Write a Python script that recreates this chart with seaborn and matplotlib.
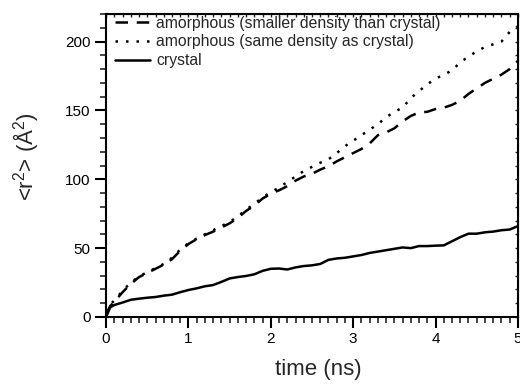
import numpy as np
import pandas as pd
import matplotlib
matplotlib.use('Agg')
import matplotlib.pyplot as plt
import seaborn as sns
from matplotlib.ticker import MultipleLocator

# values
time_ns = [0, 0.05, 0.1, 0.2, 0.3, 0.4, 0.5, 0.6, 0.7, 0.8, 0.9,
           1.0, 1.1, 1.2, 1.3, 1.4, 1.5, 1.6, 1.7, 1.8, 1.9,
           2.0, 2.1, 2.2, 2.3, 2.4, 2.5, 2.6, 2.7, 2.8, 2.9,
           3.0, 3.1, 3.2, 3.3, 3.4, 3.5, 3.6, 3.7, 3.8, 3.9,
           4.0, 4.1, 4.2, 4.3, 4.4, 4.5, 4.6, 4.7, 4.8, 4.9, 5.0]

amorph_low = [2, 8, 11, 18, 24, 29, 32, 35, 38, 42, 48,
              53, 56.5, 59.5, 62, 65, 68, 72, 77, 81, 86,
              89.5, 92, 95, 99, 102, 104, 107, 109.5, 113, 116,
              119, 122, 126, 132, 134, 137, 142, 146, 148.5, 149,
              151, 152, 154, 157, 162, 166, 170, 173, 176, 180, 186]

amorph_same = [4, 9, 12, 19, 25, 29.5, 32.5, 35.5, 38.5, 43, 49,
               53.5, 57, 60, 63, 66, 69, 73, 78, 82, 87,
               90.5, 94, 98, 102, 106, 109, 112, 114.5, 119, 124,
               128, 132, 136, 140, 145, 149, 152, 159, 164, 169,
               173, 176, 179, 185, 189, 193, 196, 198, 200, 207, 211]

crystal = [0, 7, 8.7, 10.5, 12.5, 13.3, 14, 14.5, 15.5, 16.2, 18,
           19.6, 20.8, 22.3, 23.2, 25.5, 28, 29, 29.8, 31, 33.5,
           35, 35.2, 34.5, 36, 37, 37.5, 38.5, 41.5, 42.5, 43,
           44, 45, 46.5, 47.5, 48.5, 49.5, 50.5, 50, 51.5, 51.5,
           51.8, 52, 55, 58, 60.5, 60.5, 61.5, 62, 63, 63.5, 66]

labels = ['amorphous (smaller density than crystal)',
          'amorphous (same density as crystal)',
          'crystal']

df = pd.concat([
    pd.DataFrame({'t': time_ns, 'r2': amorph_low, 'run': labels[0]}),
    pd.DataFrame({'t': time_ns, 'r2': amorph_same, 'run': labels[1]}),
    pd.DataFrame({'t': time_ns, 'r2': crystal, 'run': labels[2]}),
])

sns.set_style('ticks')
plt.rcParams['font.family'] = ['Liberation Sans', 'DejaVu Sans']
plt.rcParams['mathtext.default'] = 'regular'

fig = plt.figure(figsize=(5.2, 3.84), dpi=100)
ax = fig.add_axes([0.204, 0.1745, 0.792, 0.789])

sns.lineplot(data=df, x='t', y='r2', hue='run', style='run',
             hue_order=labels, style_order=labels,
             palette=['black'] * 3,
             dashes={labels[0]: (5, 3.5), labels[1]: (1, 3.2), labels[2]: ''},
             linewidth=1.8, ax=ax, legend=True)

ax.set_xlim(0, 5)
ax.set_ylim(0, 220)
ax.xaxis.set_major_locator(MultipleLocator(1))
ax.xaxis.set_minor_locator(MultipleLocator(0.1))
ax.yaxis.set_major_locator(MultipleLocator(50))
ax.yaxis.set_minor_locator(MultipleLocator(10))
ax.tick_params(which='major', direction='out', length=8, width=1.5,
               labelsize=11, pad=3, colors='black')
ax.tick_params(which='minor', direction='out', length=4.5, width=1.2)
for s in ax.spines.values():
    s.set_linewidth(1.5)
    s.set_color('black')

# inward ticks on top and right
top = ax.secondary_xaxis('top')
top.xaxis.set_major_locator(MultipleLocator(0.1))
top.tick_params(direction='in', length=2.5, width=1, labeltop=False)
right = ax.secondary_yaxis('right')
right.yaxis.set_major_locator(MultipleLocator(10))
right.tick_params(direction='in', length=2.5, width=1, labelright=False)

ax.set_xlabel('time (ns)', fontsize=16)
ax.set_ylabel('<r$^2$> (Å$^2$)', fontsize=16)
ax.xaxis.set_label_coords(0.515, -0.14)
ax.yaxis.set_label_coords(-0.157, 0.53)

handles, _ = ax.get_legend_handles_labels()
ax.legend(handles[-3:], labels, loc='upper left', frameon=False,
          bbox_to_anchor=(0.022, 0.995),
          fontsize=11.3, handlelength=2.2, handletextpad=0.4,
          labelspacing=0.25, borderaxespad=0, borderpad=0)

fig.savefig('out.png', dpi=100)
